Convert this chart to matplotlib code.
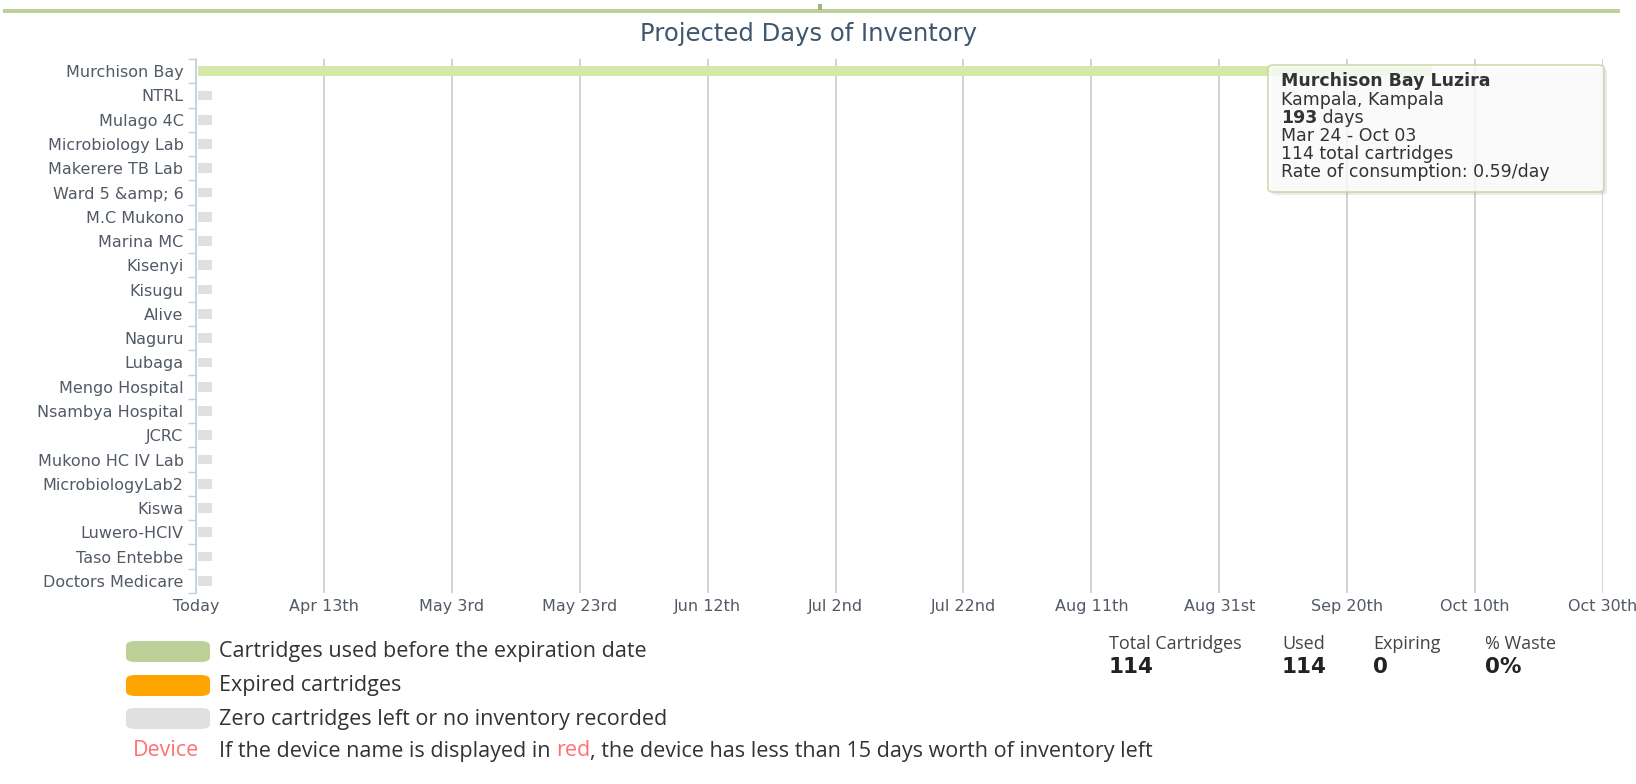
import matplotlib
matplotlib.use("Agg")
import matplotlib.pyplot as plt
from matplotlib.patches import FancyBboxPatch, Rectangle
import numpy as np

# ---------------- data ----------------
sites = ["Murchison Bay", "NTRL", "Mulago 4C", "Microbiology Lab", "Makerere TB Lab",
         "Ward 5 &amp; 6", "M.C Mukono", "Marina MC", "Kisenyi", "Kisugu", "Alive",
         "Naguru", "Lubaga", "Mengo Hospital", "Nsambya Hospital", "JCRC",
         "Mukono HC IV Lab", "MicrobiologyLab2", "Kiswa", "Luwero-HCIV",
         "Taso Entebbe", "Doctors Medicare"]
days_left = [193, 0, 0, 0, 0, 0, 0, 0, 0, 0, 0, 0, 0, 0, 0, 0, 0, 0, 0, 0, 0, 0]
tick_days = [0, 20, 40, 60, 80, 100, 120, 140, 160, 180, 200, 220]
tick_labels = ["Today", "Apr 13th", "May 3rd", "May 23rd", "Jun 12th", "Jul 2nd",
               "Jul 22nd", "Aug 11th", "Aug 31st", "Sep 20th", "Oct 10th", "Oct 30th"]
legend_labels = ["Cartridges used before the expiration date", "Expired cartridges",
                 "Zero cartridges left or no inventory recorded"]
stat_labels = ["Total Cartridges", "Used", "Expiring", "% Waste"]
stat_values = ["114", "114", "0", "0%"]
tooltip_lines = ["Murchison Bay Luzira", "Kampala, Kampala", "193", " days",
                 "Mar 24 - Oct 03", "114 total cartridges", "Rate of consumption: 0.59/day"]

# ---------------- style ----------------
GREEN_BAR = "#d5e8a9"
GREEN_LEG = "#bdd097"
ORANGE = "#ffa500"
GREY = "#e0e0e0"
LABEL_C = "#525a66"
AXIS_C = "#c0d0e0"
GRID_C = "#c8c8c8"
STUB_DAYS = 2.2

W, H = 1636, 784
fig = plt.figure(figsize=(W / 100, H / 100), dpi=100)
fig.patch.set_facecolor("white")


def fx(px):
    return px / W


def fy(py):
    return 1 - py / H


ax = fig.add_axes([fx(196), fy(593), fx(1603) - fx(196), fy(59) - fy(593)])
y = np.arange(len(sites))
widths = [d if d > 0 else STUB_DAYS for d in days_left]
colors = [GREEN_BAR if d > 0 else GREY for d in days_left]
ax.barh(y, widths, height=0.4, color=colors, left=0.3, zorder=3)
ax.set_ylim(len(sites) - 0.5, -0.5)
ax.set_xlim(0, 220)
ax.set_yticks(y)
ax.set_yticklabels(sites, fontsize=11.5, color=LABEL_C, family="DejaVu Sans")
ax.set_yticks(np.arange(-0.5, len(sites)), minor=True)
ax.tick_params(axis="y", which="major", length=0, pad=9)
ax.tick_params(axis="y", which="minor", length=6, color=AXIS_C, width=1)
ax.set_xticks(tick_days)
ax.set_xticklabels(tick_labels, fontsize=11.5, color=LABEL_C, family="DejaVu Sans")
ax.tick_params(axis="x", length=0, pad=4)
ax.grid(axis="x", color=GRID_C, lw=1.1, zorder=0)
for s in ["top", "right", "bottom"]:
    ax.spines[s].set_visible(False)
ax.spines["left"].set_color(AXIS_C)
ax.spines["left"].set_linewidth(1.2)

# title
fig.text(fx(809), fy(34), "Projected Days of Inventory", ha="center", va="center",
         fontsize=17.5, color="#3e576f", family="DejaVu Sans")

# top green line
fig.add_artist(Rectangle((fx(3), fy(13)), fx(1620) - fx(3), 4 / H,
                         transform=fig.transFigure, color=GREEN_LEG, lw=0))
fig.add_artist(Rectangle((fx(818), fy(10)), 4 / W, 6 / H,
                         transform=fig.transFigure, color="#9fb77a", lw=0))

# tooltip
shadow = FancyBboxPatch((fx(1271), fy(195)), fx(1604) - fx(1268), (192 - 65) / H,
                        boxstyle="round,pad=0,rounding_size=0.004",
                        transform=fig.transFigure, facecolor="#000000", alpha=0.08,
                        edgecolor="none", zorder=5)
fig.add_artist(shadow)
box = FancyBboxPatch((fx(1268), fy(192)), fx(1604) - fx(1268), (192 - 65) / H,
                     boxstyle="round,pad=0,rounding_size=0.004",
                     transform=fig.transFigure, facecolor="white", alpha=0.8,
                     edgecolor="#c4d6a2", lw=1.3, zorder=6)
fig.add_artist(box)
tx = fx(1281)
tt_font = dict(fontsize=12.5, color="#333333", family="DejaVu Sans", va="center",
               ha="left", zorder=7)
fig.text(tx, fy(81), tooltip_lines[0], fontweight="bold", **tt_font)
fig.text(tx, fy(100), tooltip_lines[1], **tt_font)
t193 = fig.text(tx, fy(118), tooltip_lines[2], fontweight="bold", **tt_font)
renderer = fig.canvas.get_renderer()
bb = t193.get_window_extent(renderer)
fig.text(bb.x1 / W, fy(118), tooltip_lines[3], **tt_font)
fig.text(tx, fy(136), tooltip_lines[4], **tt_font)
fig.text(tx, fy(154), tooltip_lines[5], **tt_font)
fig.text(tx, fy(172), tooltip_lines[6], **tt_font)

# legend
leg_colors = [GREEN_LEG, ORANGE, GREY]
leg_y = [652, 686, 719]
for lab, c, yy in zip(legend_labels, leg_colors, leg_y):
    fig.add_artist(FancyBboxPatch((fx(126), fy(yy + 10)), fx(210) - fx(126), 21 / H,
                                  boxstyle="round,pad=0,rounding_size=0.006",
                                  transform=fig.transFigure, facecolor=c,
                                  edgecolor="none"))
    fig.text(fx(219), fy(yy), lab, fontsize=15.5, color="#333333",
             family="Open Sans", va="center", ha="left")

note_font = dict(fontsize=15.5, family="Open Sans", va="center", ha="left")
fig.text(fx(133), fy(751), "Device", color="#ff7070", **note_font)
t1 = fig.text(fx(219), fy(751), "If the device name is displayed in ", color="#333333",
              **note_font)
b1 = t1.get_window_extent(renderer)
t2 = fig.text(b1.x1 / W, fy(751), "red", color="#ff7070", **note_font)
b2 = t2.get_window_extent(renderer)
fig.text(b2.x1 / W, fy(751), ", the device has less than 15 days worth of inventory left",
         color="#333333", **note_font)

# stats
stat_x = [1109, 1282, 1373, 1485]
for sx, lab, val in zip(stat_x, stat_labels, stat_values):
    fig.text(fx(sx), fy(644), lab, fontsize=13, color="#444444", family="Open Sans",
             va="center", ha="left")
    fig.text(fx(sx), fy(667), val, fontsize=15.5, color="#222222", family="DejaVu Sans",
             fontweight="bold", va="center", ha="left")

fig.savefig("out.png", dpi=100)
